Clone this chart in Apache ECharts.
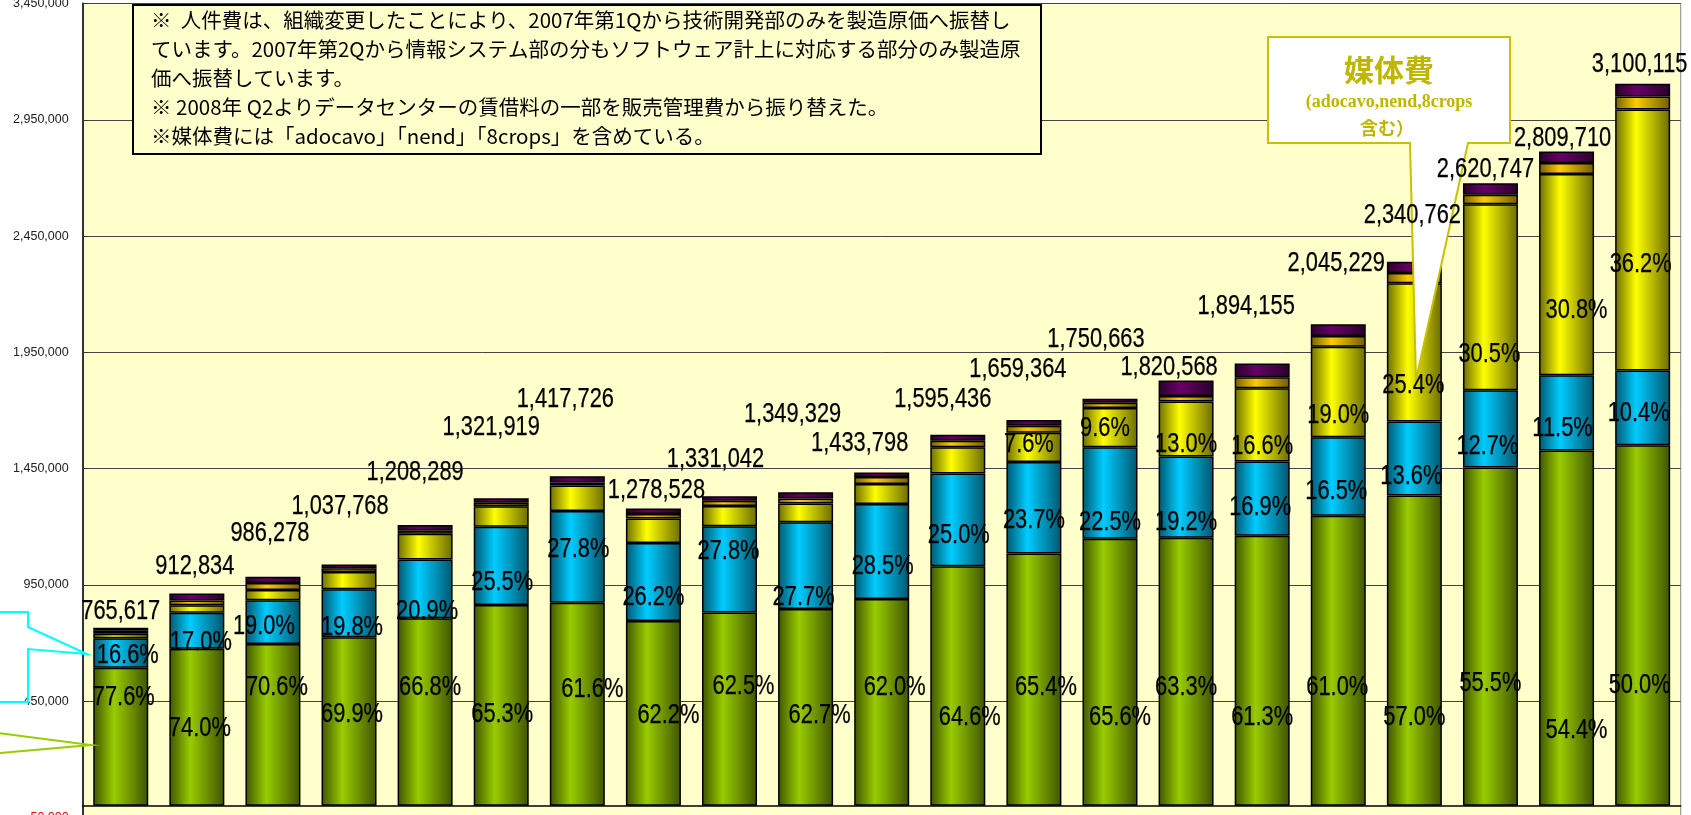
<!DOCTYPE html>
<html>
<head>
<meta charset="utf-8">
<script src="https://cdn.jsdelivr.net/npm/echarts@6/dist/echarts.min.js"></script>
<style>
html, body { margin: 0; padding: 0; background: #fff; }
#chart { width: 1691px; height: 815px; }
</style>
</head>
<body>
<div id="chart"></div>
<script>
// quarters (axis labels are cut off in the original, so just numbered)
const quarters = ['1','2','3','4','5','6','7','8','9','10','11','12','13','14','15','16','17','18','19','20','21'];

// totals printed above each bar
const totals = [765617, 912834, 986278, 1037768, 1208289, 1321919, 1417726, 1278528, 1331042, 1349329, 1433798,
  1595436, 1659364, 1750663, 1820568, 1894155, 2045229, 2340762, 2620747, 2809710, 3100115];

// share labels (%)
const laborPct = [77.6, 74.0, 70.6, 69.9, 66.8, 65.3, 61.6, 62.2, 62.5, 62.7, 62.0, 64.6, 65.4, 65.6, 63.3, 61.3, 61.0, 57.0, 55.5, 54.4, 50.0];
const cyanPct = [16.6, 17.0, 19.0, 19.8, 20.9, 25.5, 27.8, 26.2, 27.8, 27.7, 28.5, 25.0, 23.7, 22.5, 19.2, 16.9, 16.5, 13.6, 12.7, 11.5, 10.4];
const mediaPct = [7.6, 9.6, 13.0, 16.6, 19.0, 25.4, 30.5, 30.8, 36.2]; // from bar 13 on

// segment values (yen)
const labor = [594000, 675500, 696300, 725400, 807100, 863200, 873300, 795200, 831900, 846000, 889000,
  1030700, 1085200, 1148400, 1152400, 1161100, 1247600, 1334200, 1454500, 1528500, 1550100];
const cyan = [127100, 155200, 187400, 205500, 252500, 337100, 394100, 335000, 370000, 373800, 408600,
  398900, 393300, 393900, 349500, 320100, 337500, 318300, 332800, 323100, 322400];
const media = [19000, 32000, 45000, 75000, 110000, 88000, 110000, 105000, 88000, 80000, 86000,
  112000, 126100, 168100, 236700, 314400, 388600, 594600, 799300, 865400, 1122200];
const orange = [13000, 20000, 30000, 16000, 14000, 15000, 13000, 20000, 22000, 22000, 30000,
  28000, 30000, 23000, 24000, 47000, 47000, 44000, 41000, 47000, 55000];
const purple = [13000, 30000, 27000, 16000, 24000, 19000, 27000, 23000, 19000, 27000, 20000,
  26000, 25000, 17000, 66000, 60000, 50000, 49000, 50000, 50000, 55000];

// where the hand-placed labels sit (y in axis units, x nudge in px)
const laborLabelY = [465000, 332000, 510000, 391000, 510000, 391000, 499000, 390000, 513000, 388000, 510000,
  381000, 509000, 381000, 510000, 381000, 510000, 381000, 524000, 324000, 517000];
const laborLabelDx = [3, 3, 4, 3, 5, 1, 15, 15, 14, 14, 13, 12, 12, 10, 0, 0, -1, 0, 0, 10, -3];
const cyanLabelY = [647000, 701000, 769000, 768000, 836000, 962000, 1100000, 897000, 1095000, 897000, 1029000,
  1163000, 1227000, 1220000, 1220000, 1282000, 1353000, 1417000, 1546000, 1622000, 1687000];
const cyanLabelDx = [7, 4, -9, 3, 2, 1, 1, 0, -1, -2, 1, 1, 0, 0, 0, -2, -2, -3, -3, -4, -4];
const mediaLabelY = [1553000, 1622000, 1553000, 1547000, 1680000, 1806000, 1939000, 2129000, 2328000];
const mediaLabelDx = [-5, -5, 0, 0, 0, -1, -1, 10, -2];
const totalLabelY = [836000, 1027000, 1171000, 1289000, 1433000, 1627000, 1748000, 1357000, 1489000, 1684000, 1556000,
  1745000, 1877000, 2005000, 1884000, 2147000, 2331000, 2538000, 2736000, 2868000, 3188000];
const totalLabelDx = [0, -2, -3, -9, -10, -10, -12, 3, -14, -13, -22, -15, -16, -14, -17, -16, -2, -2, -5, -4, -3];

const noteLines = [
  '※  人件費は、組織変更したことにより、2007年第1Qから技術開発部のみを製造原価へ振替し',
  'ています。2007年第2Qから情報システム部の分もソフトウェア計上に対応する部分のみ製造原',
  '価へ振替しています。',
  '※ 2008年 Q2よりデータセンターの賃借料の一部を販売管理費から振り替えた。',
  '※媒体費には「adocavo」「nend」「8crops」を含めている。'
];

const LABEL_FONT = "27px 'Liberation Sans', Arial, sans-serif";
const JP = "'Noto Sans CJK JP', sans-serif";

function tube(base, dark) {
  return {
    type: 'linear', x: 0, y: 0, x2: 1, y2: 0,
    colorStops: [
      { offset: 0, color: dark },
      { offset: 0.38, color: base },
      { offset: 1, color: dark }
    ]
  };
}

function barSeries(name, data, base, dark) {
  return {
    name: name,
    type: 'bar',
    stack: 'cost',
    barWidth: 55,
    silent: true,
    itemStyle: { color: tube(base, dark), borderColor: '#000', borderWidth: 1.5 },
    data: data
  };
}

// narrow (Arial Narrow-like) text, squeezed horizontally
function labelSeries(name, ys, dxs, texts, start) {
  return {
    name: name,
    type: 'custom',
    silent: true,
    z: 10,
    clip: false,
    renderItem: (params, api) => {
      const p = api.coord([api.value(0), api.value(1)]);
      return {
        type: 'text',
        x: p[0] + dxs[params.dataIndex],
        y: p[1],
        scaleX: 0.81,
        style: {
          text: texts[params.dataIndex],
          font: LABEL_FONT,
          fill: '#000',
          stroke: '#000',
          lineWidth: 0.25,
          align: 'center',
          verticalAlign: 'middle'
        }
      };
    },
    data: ys.map((y, k) => [start + k, y])
  };
}

const chart = echarts.init(document.getElementById('chart'));

const graphics = [
  // note box
  { type: 'rect', z: 5, shape: { x: 133, y: 5, width: 908, height: 149 },
    style: { fill: '#FFFFCC', stroke: '#000', lineWidth: 2 } }
];
noteLines.forEach((t, i) => {
  graphics.push({ type: 'text', z: 6, left: 151, top: 10 + i * 29,
    style: { text: t, font: '20.5px ' + JP, fill: '#000' } });
});
// 媒体費 callout
graphics.push({ type: 'polygon', z: 5,
  shape: { points: [[1268, 37], [1510, 37], [1510, 143], [1468, 143], [1416, 380], [1410, 143], [1268, 143]] },
  style: { fill: '#fff', stroke: '#C8C000', lineWidth: 2 } });
graphics.push({ type: 'text', z: 6, x: 1389, y: 70,
  style: { text: '媒体費', font: 'bold 30px ' + JP, fill: '#BFB600', align: 'center', verticalAlign: 'middle' } });
graphics.push({ type: 'text', z: 6, x: 1389, y: 102,
  style: { text: '(adocavo,nend,8crops', font: "bold 18px 'Liberation Serif', serif", fill: '#BFB600', align: 'center', verticalAlign: 'middle' } });
graphics.push({ type: 'text', z: 6, x: 1387, y: 128,
  style: { text: '含む）', font: 'bold 18px ' + JP, fill: '#BFB600', align: 'center', verticalAlign: 'middle' } });
// callouts cut off at the left edge
graphics.push({ type: 'polyline', z: 5,
  shape: { points: [[-10, 612], [28, 612], [28, 627], [87, 654], [28, 649], [28, 702], [-10, 702]] },
  style: { fill: null, stroke: '#00FFFF', lineWidth: 2 } });
graphics.push({ type: 'polyline', z: 5,
  shape: { points: [[-10, 732], [91, 745], [-10, 754]] },
  style: { fill: null, stroke: '#99CC00', lineWidth: 2 } });

chart.setOption({
  backgroundColor: '#fff',
  animation: false,
  grid: {
    left: 82.7, top: 3.5, width: 1598, height: 814,
    containLabel: false,
    outerBoundsMode: 'none',
    show: true, backgroundColor: '#FFFFCC', borderColor: '#8c8c8c', borderWidth: 1
  },
  xAxis: {
    type: 'category',
    data: quarters,
    axisLine: { onZero: true, lineStyle: { color: '#000', width: 1.5 } },
    axisTick: { show: false },
    axisLabel: { show: false },
    splitLine: { show: false }
  },
  yAxis: {
    type: 'value',
    min: -50000,
    max: 3450000,
    interval: 500000,
    axisLine: { show: true, lineStyle: { color: '#333', width: 2 } },
    axisTick: { show: true, inside: true, length: 5, lineStyle: { color: '#333' } },
    axisLabel: {
      margin: 14,
      fontSize: 12.5,
      fontFamily: "'Liberation Sans', Arial, sans-serif",
      color: v => (Number(v) < 0 ? '#ff0000' : '#222'),
      formatter: v => v.toLocaleString('en-US')
    },
    splitLine: { show: true, lineStyle: { color: '#444', width: 1 } }
  },
  graphic: graphics,
  series: [
    barSeries('人件費', labor, '#99CC00', '#3F5400'),
    barSeries('その他', cyan, '#00CCFF', '#00566E'),
    barSeries('媒体費', media, '#FFFF00', '#6B6B00'),
    barSeries('その他2', orange, '#FFCC00', '#735C00'),
    barSeries('その他3', purple, '#660066', '#2A002A'),
    labelSeries('laborLabel', laborLabelY, laborLabelDx, laborPct.map(v => v.toFixed(1) + '%'), 0),
    labelSeries('cyanLabel', cyanLabelY, cyanLabelDx, cyanPct.map(v => v.toFixed(1) + '%'), 0),
    labelSeries('mediaLabel', mediaLabelY, mediaLabelDx, mediaPct.map(v => v.toFixed(1) + '%'), 12),
    labelSeries('totalLabel', totalLabelY, totalLabelDx, totals.map(v => v.toLocaleString('en-US')), 0)
  ]
});
</script>
</body>
</html>
